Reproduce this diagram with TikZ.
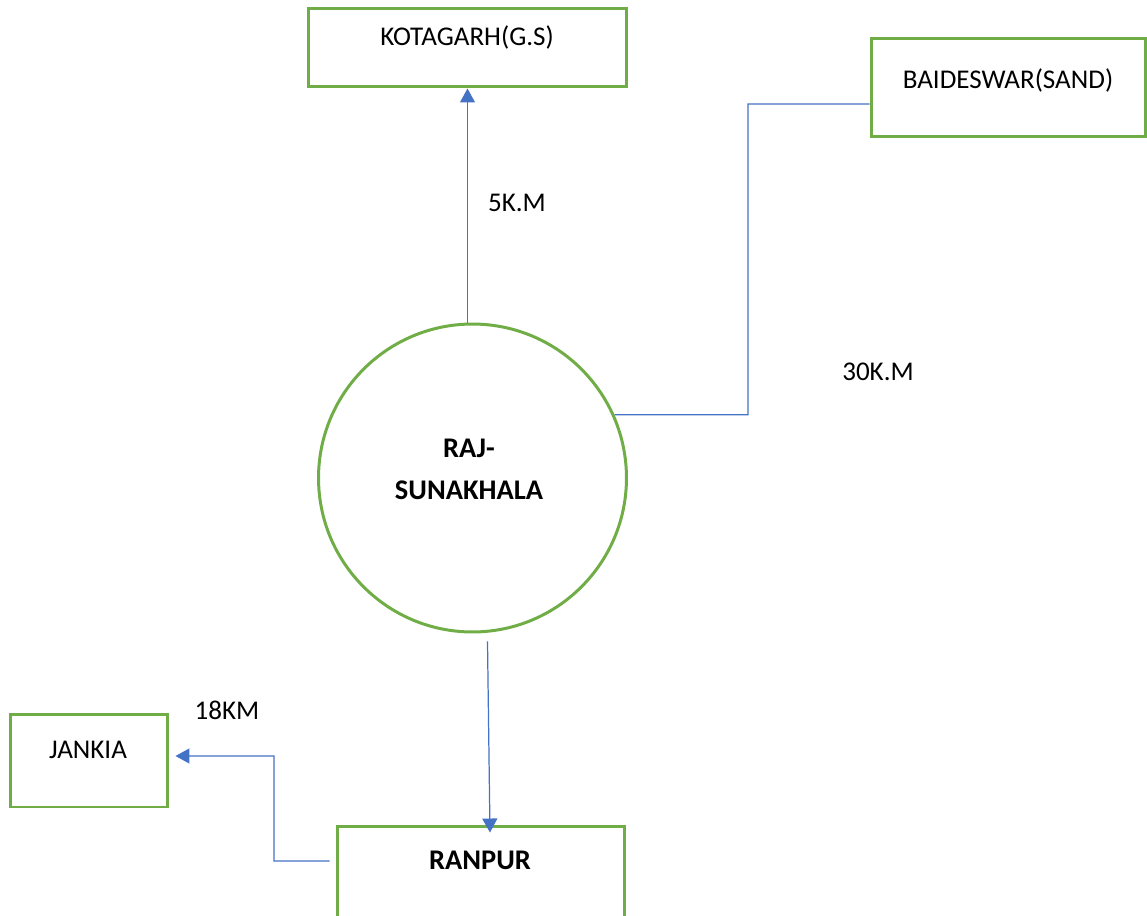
\documentclass[tikz,border=0pt]{standalone}
\usepackage{fontspec}
\setmainfont{Carlito}
\usetikzlibrary{arrows.meta}
\definecolor{boxgreen}{HTML}{70AD47}
\definecolor{linkblue}{HTML}{4472C4}
\begin{document}
\begin{tikzpicture}[x=0.02cm,y=-0.02cm,
        place/.style={draw=boxgreen,line width=1.7pt,inner sep=0pt},
        link/.style={draw=linkblue,line width=0.7pt},
        tip/.style={-{Triangle[width=0.3cm,length=0.28cm]}},
        txt/.style={font=\fontsize{15.4}{24}\selectfont},
        bold/.style={font=\fontsize{16.2}{24}\selectfont\bfseries}]
        \useasboundingbox (0,0) rectangle (1147,916);
        % places
        \node [place,minimum width=6.38cm,minimum height=1.58cm] (kota) at(467.5,47.5) {};
        \node [place,minimum width=5.5cm,minimum height=1.98cm] (baid) at(1008.5,87.5) {};
        \node [place,circle,minimum size=6.16cm] (raj) at(472.5,478) {};
        \node [place,minimum width=3.16cm,minimum height=1.86cm] (jankia) at(89,760.5) {};
        \node [place,minimum width=5.76cm,minimum height=2.28cm] (ranpur) at(481,883) {};
        % texts
        \node [txt] (kotatext) at(467,37) {KOTAGARH(G.S)};
        \node [txt] (baidtext) at(1008,80) {BAIDESWAR(SAND)};
        \node [bold,align=center] (rajtext) at(469,469) {RAJ-\\SUNAKHALA};
        \node [txt] (jankiatext) at(88,750) {JANKIA};
        \node [bold] (ranpurtext) at(480,860) {RANPUR};
        % links
        \draw [link,tip] (raj.north -| kota.south) -- (kota.south);
        \draw [link] (raj.24) -| (748,104) -- ([yshift=-0.33cm]baid.west);
        \draw [link,tip] ([xshift=0.3cm,yshift=-0.16cm]raj.south) -- ([xshift=0.18cm,yshift=-0.16cm]ranpur.north);
        \draw [link,tip] ([xshift=-0.12cm,yshift=0.44cm]ranpur.west) -| (274,756) -- ([xshift=0.12cm,yshift=0.09cm]jankia.east);
        % distances
        \node [txt] (kotakm) at(517,203) {5K.M};
        \node [txt] (baidkm) at(878,372) {30K.M};
        \node [txt] (jankiakm) at(227,710) {18KM};
    \end{tikzpicture}
\end{document}
